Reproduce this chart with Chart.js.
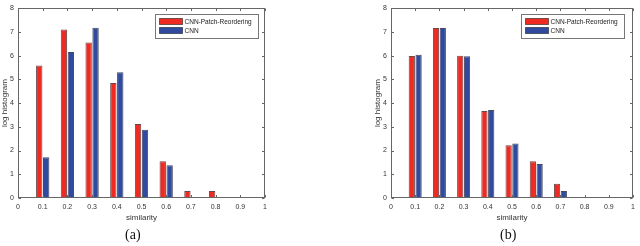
<!DOCTYPE html>
<html>
<head>
<meta charset="utf-8">
<script src="https://cdn.jsdelivr.net/npm/chart.js@4.4.0/dist/chart.umd.min.js"></script>
<style>
  html, body { margin: 0; padding: 0; background: #fff; }
  #wrap { position: relative; width: 640px; height: 246px; overflow: hidden; }
  .panel { position: absolute; top: 0; width: 320px; height: 246px; }
  .cap { position: absolute; top: 227px; font: 14px "Liberation Serif", "Times New Roman", serif; color: #111; }
</style>
</head>
<body>
<div id="wrap">
  <div class="panel" style="left:0"><canvas id="chartA" width="320" height="246"></canvas></div>
  <div class="panel" style="left:320px"><canvas id="chartB" width="320" height="246"></canvas></div>
  <div class="cap" style="left:125px">(a)</div>
  <div class="cap" style="left:500px">(b)</div>
</div>
<script>
// similarity bins (x positions)
const bins = [0.1, 0.2, 0.3, 0.4, 0.5, 0.6, 0.7, 0.8, 0.9];
const seriesNames = ["CNN-Patch-Reordering", "CNN"];

// (a)
const reorderA = [5.58, 7.10, 6.55, 4.85, 3.12, 1.55, 0.30, 0.30, 0];
const cnnA     = [1.72, 6.15, 7.18, 5.30, 2.88, 1.38, 0, 0, 0];

// (b)
const reorderB = [5.98, 7.17, 6.00, 3.67, 2.22, 1.55, 0.60, 0, 0];
const cnnB     = [6.04, 7.17, 5.97, 3.71, 2.30, 1.43, 0.30, 0, 0];

const RED = "#ee2a22";
const BLUE = "#2f4a9e";

Chart.defaults.font.family = "'Liberation Sans', Arial, sans-serif";
Chart.defaults.color = "#333";

/** box round the axes, with MATLAB style inward ticks */
const boxPlugin = {
    id: "box",
    afterDraw(chart) {
        const { ctx, chartArea: a, scales } = chart;
        const L = Math.round(a.left) + 0.5, R = Math.round(a.right) - 0.5;
        const T = Math.round(a.top) + 0.5, B = Math.round(a.bottom) - 0.5;
        ctx.save();
        ctx.strokeStyle = "#666";
        ctx.lineWidth = 1;
        ctx.strokeRect(L, T, R - L, B - T);
        ctx.beginPath();
        scales.x.ticks.forEach(t => {
            const x = Math.round(scales.x.getPixelForValue(t.value)) + 0.5;
            ctx.moveTo(x, B); ctx.lineTo(x, B - 2.5);
            ctx.moveTo(x, T); ctx.lineTo(x, T + 2.5);
        });
        scales.y.ticks.forEach(t => {
            const y = Math.round(scales.y.getPixelForValue(t.value)) + 0.5;
            ctx.moveTo(L, y); ctx.lineTo(L + 2.5, y);
            ctx.moveTo(R, y); ctx.lineTo(R - 2.5, y);
        });
        ctx.stroke();
        ctx.restore();
    }
};

/** legend drawn inside the axes, top right */
const legendPlugin = {
    id: "boxLegend",
    afterDraw(chart, args, opts) {
        const { ctx, chartArea: a } = chart;
        const w = 103, h = 24;
        const x0 = Math.round(a.right - opts.right - w) + 0.5;
        const y0 = Math.round(a.top + 6) + 0.5;
        ctx.save();
        ctx.fillStyle = "#fff";
        ctx.fillRect(x0, y0, w, h);
        ctx.strokeStyle = "#777";
        ctx.lineWidth = 1;
        ctx.strokeRect(x0, y0, w, h);
        ctx.font = "6.5px 'Liberation Sans', Arial, sans-serif";
        ctx.textBaseline = "middle";
        chart.data.datasets.forEach((ds, i) => {
            const sy = y0 + 4 + i * 9;
            ctx.fillStyle = ds.backgroundColor;
            ctx.fillRect(x0 + 4, sy, 23, 6);
            ctx.strokeStyle = "rgba(0,0,0,0.5)";
            ctx.strokeRect(x0 + 4, sy, 23, 6);
            ctx.fillStyle = "#222";
            ctx.fillText(ds.label, x0 + 29, sy + 3.5);
        });
        ctx.restore();
    }
};

function makeChart(id, red, blue, padLeft, padRight, legRight) {
    return new Chart(document.getElementById(id), {
        type: "bar",
        data: {
            datasets: [
                {
                    label: seriesNames[0],
                    data: bins.map((b, i) => ({ x: b, y: red[i] })),
                    backgroundColor: RED,
                    borderColor: "rgba(60,10,10,0.75)",
                    borderWidth: 1
                },
                {
                    label: seriesNames[1],
                    data: bins.map((b, i) => ({ x: b, y: blue[i] })),
                    backgroundColor: BLUE,
                    borderColor: "rgba(10,10,40,0.75)",
                    borderWidth: 1
                }
            ]
        },
        options: {
            responsive: false,
            animation: false,
            categoryPercentage: 0.56,
            barPercentage: 0.92,
            layout: { padding: { left: padLeft, right: padRight, top: 4, bottom: 22 } },
            plugins: {
                legend: { display: false },
                tooltip: { enabled: false },
                boxLegend: { right: legRight }
            },
            scales: {
                x: {
                    type: "linear",
                    min: 0,
                    max: 1,
                    offset: false,
                    grid: { display: false, drawTicks: false, offset: false },
                    border: { display: false },
                    ticks: {
                        stepSize: 0.1,
                        padding: 5,
                        font: { size: 7 },
                        maxRotation: 0,
                        callback: v => String(Number(v.toFixed(1)))
                    },
                    title: { display: true, text: "similarity", font: { size: 8 }, padding: 1 },
                    afterFit(s) { s.height = 26; }
                },
                y: {
                    min: 0,
                    max: 8,
                    grid: { display: false, drawTicks: false },
                    border: { display: false },
                    ticks: { stepSize: 1, padding: 4, font: { size: 7 } },
                    title: { display: true, text: "log histogram", font: { size: 8 }, padding: 0 },
                    afterFit(s) { s.width = 18; }
                }
            }
        },
        plugins: [boxPlugin, legendPlugin]
    });
}

makeChart("chartA", reorderA, cnnA, 0, 55, 7);
makeChart("chartB", reorderB, cnnB, 53, 1, 9);
</script>
</body>
</html>
